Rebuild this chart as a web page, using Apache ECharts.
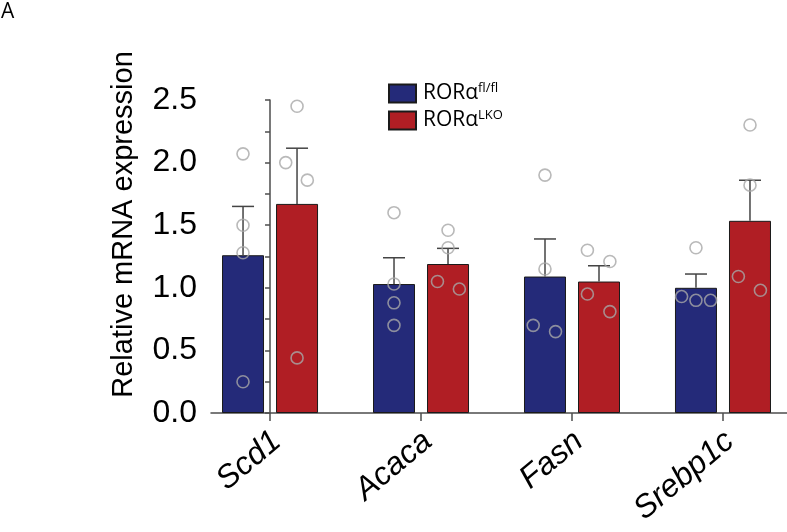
<!DOCTYPE html>
<html>
<head>
<meta charset="utf-8">
<script src="https://cdn.jsdelivr.net/npm/echarts@6/dist/echarts.min.js"></script>
<style>
html,body{margin:0;padding:0;background:#fff;}
#chart{width:787px;height:532px;}
</style>
</head>
<body>
<div id="chart"></div>
<script>
// ---- data ----
var categories = ['Scd1', 'Acaca', 'Fasn', 'Srebp1c'];
var ctrlName = 'RORα fl/fl';
var koName = 'RORα LKO';
var ctrlMean = [1.26, 1.03, 1.09, 1.00];
var ctrlSem  = [0.39, 0.21, 0.30, 0.11];
var koMean   = [1.67, 1.19, 1.05, 1.535];
var koSem    = [0.445, 0.125, 0.126, 0.324];
// individual points: [category index, value, horizontal jitter (category units)]
var ctrlDots = [
  [0, 2.07, 0], [0, 1.50, 0], [0, 1.28, 0], [0, 0.25, 0],
  [1, 1.60, 0], [1, 1.03, 0], [1, 0.88, 0], [1, 0.70, 0],
  [2, 1.90, 0], [2, 1.15, 0], [2, 0.70, -0.078], [2, 0.65, 0.07],
  [3, 1.32, 0], [3, 0.93, -0.095], [3, 0.90, 0], [3, 0.90, 0.097]
];
var koDots = [
  [0, 2.45, 0], [0, 2.00, -0.075], [0, 1.86, 0.068], [0, 0.44, 0],
  [1, 1.46, 0], [1, 1.32, 0], [1, 1.05, -0.07], [1, 0.99, 0.075],
  [2, 1.30, -0.077], [2, 1.21, 0.072], [2, 0.95, -0.077], [2, 0.81, 0.072],
  [3, 2.30, 0], [3, 1.82, 0], [3, 1.09, -0.077], [3, 0.98, 0.069]
];
var yTicks = [0, 0.5, 1.0, 1.5, 2.0, 2.5];

// ---- style / layout ----
var BLUE = '#242a79';
var RED = '#b01e24';
var AXIS = '#4d4d4d';
var BAR_W = 42;
var BAR_GAP_PX = 12;
var GROUP_OFF = 0.179; // bar centre offset in category units

var chart = echarts.init(document.getElementById('chart'), null, {renderer: 'canvas'});

function barData(means) { return means.map(function (v, i) { return [i, v]; }); }
function errData(means, sems) { return means.map(function (v, i) { return [i, v, v + sems[i]]; }); }
function dotData(dots, off) { return dots.map(function (d) { return [d[0] + off + d[2], d[1]]; }); }

function errRender(sign) {
  return function (params, api) {
    var x = api.value(0), lo = api.value(1), hi = api.value(2);
    var p0 = api.coord([x, lo]);
    var p1 = api.coord([x, hi]);
    var px = p0[0] + sign * (BAR_W + BAR_GAP_PX) / 2;
    var style = {stroke: '#444', lineWidth: 1.5, fill: null};
    return {
      type: 'group',
      children: [
        {type: 'line', shape: {x1: px, y1: p0[1], x2: px, y2: p1[1]}, style: style},
        {type: 'line', shape: {x1: px - 11, y1: p1[1], x2: px + 11, y2: p1[1]}, style: style}
      ]
    };
  };
}

var dotStyle = {color: 'rgba(0,0,0,0)', borderColor: '#a8a8a8', borderWidth: 1.6};

var option = {
  backgroundColor: '#fff',
  animation: false,
  title: {
    text: 'A', left: 0, top: 0, padding: [2, 2, 2, 1],
    textStyle: {fontSize: 21, fontWeight: 'normal', fontFamily: 'Open Sans', color: '#000'}
  },
  legend: {
    orient: 'vertical',
    left: 388, top: 82, padding: 0,
    itemWidth: 27, itemHeight: 18, itemGap: 5,
    icon: 'rect',
    data: [ctrlName, koName],
    formatter: function (name) {
      var parts = name.split(' ');
      return parts[0] + '{sup|' + parts[1] + '}';
    },
    textStyle: {
      fontFamily: 'Open Sans', fontSize: 21, color: '#000', padding: [0, 0, 0, 2],
      rich: {sup: {fontFamily: 'Open Sans', fontSize: 13, color: '#000', padding: [0, 0, 10, 0]}}
    }
  },
  grid: {left: 211, right: 0, top: 100, bottom: 119, containLabel: false, outerBoundsMode: 'none'},
  xAxis: {
    type: 'value',
    min: -0.391, max: 3.424,
    axisLine: {show: true, onZero: false, lineStyle: {color: AXIS, width: 1.5}},
    splitLine: {show: false},
    axisTick: {show: true, customValues: [0, 1, 2, 3], length: 8, lineStyle: {color: AXIS, width: 1.5}},
    axisLabel: {
      customValues: [0, 1, 2, 3],
      formatter: function (v) { return categories[Math.round(v)]; },
      rotate: 40, margin: 30, padding: [0, -9, 0, 0],
      fontSize: 32, fontStyle: 'italic', fontFamily: 'Liberation Sans', color: '#000'
    }
  },
  yAxis: {
    type: 'value',
    min: yTicks[0], max: yTicks[yTicks.length - 1], interval: 0.5,
    name: 'Relative mRNA expression',
    nameLocation: 'middle', nameGap: 73,
    nameTextStyle: {fontSize: 29, fontFamily: 'Liberation Sans', color: '#000', padding: [0, 0, 0, 64]},
    axisLine: {show: true, lineStyle: {color: AXIS, width: 1.5}},
    axisTick: {show: true, length: 5, lineStyle: {color: AXIS, width: 1.5}},
    minorTick: {show: true, splitNumber: 2, length: 5, lineStyle: {color: AXIS, width: 1.5}},
    splitLine: {show: false},
    minorSplitLine: {show: false},
    axisLabel: {
      margin: 14, fontSize: 32, fontFamily: 'Liberation Sans', color: '#000',
      formatter: function (v) { return v.toFixed(1); }
    }
  },
  series: [
    {
      name: ctrlName, type: 'bar', data: barData(ctrlMean),
      barWidth: BAR_W, barGap: (BAR_GAP_PX / BAR_W * 100).toFixed(1) + '%',
      itemStyle: {color: BLUE, borderColor: '#1a1a1a', borderWidth: 1}, z: 2
    },
    {
      name: koName, type: 'bar', data: barData(koMean),
      barWidth: BAR_W,
      itemStyle: {color: RED, borderColor: '#1a1a1a', borderWidth: 1}, z: 2
    },
    {type: 'custom', data: errData(ctrlMean, ctrlSem), renderItem: errRender(-1), z: 3, silent: true},
    {type: 'custom', data: errData(koMean, koSem), renderItem: errRender(1), z: 3, silent: true},
    {type: 'scatter', data: dotData(ctrlDots, -GROUP_OFF), symbol: 'circle', symbolSize: 12, itemStyle: dotStyle, z: 4},
    {type: 'scatter', data: dotData(koDots, GROUP_OFF), symbol: 'circle', symbolSize: 12, itemStyle: dotStyle, z: 4}
  ]
};
chart.setOption(option);
</script>
</body>
</html>
